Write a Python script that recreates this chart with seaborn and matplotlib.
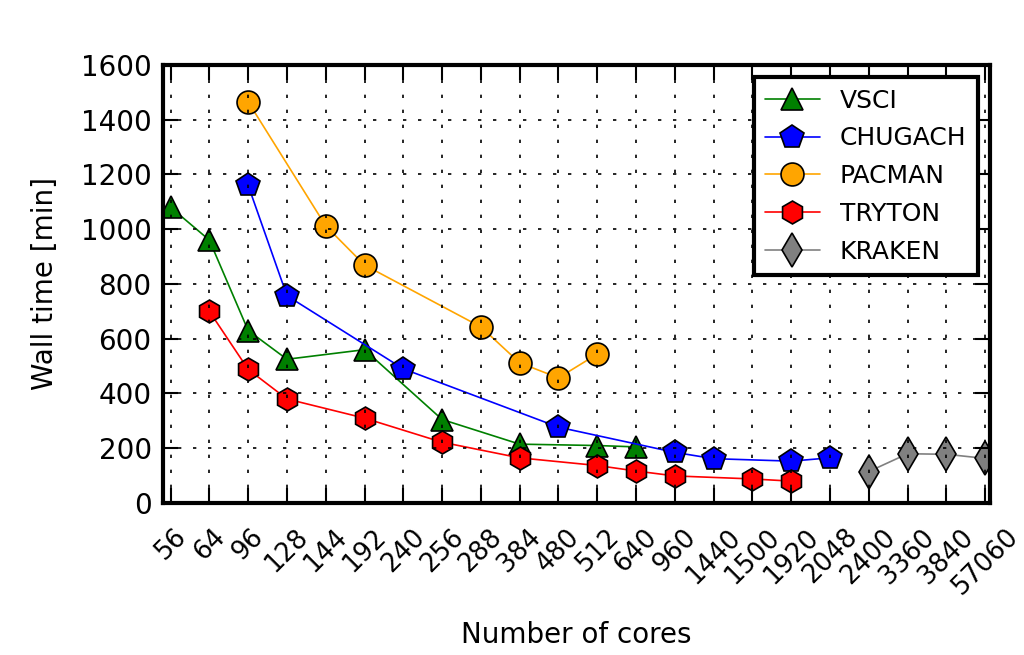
import pandas as pd
import matplotlib
matplotlib.use("Agg")
import matplotlib.pyplot as plt
import seaborn as sns

# Categories on the x axis (number of cores)
cores = ["56", "64", "96", "128", "144", "192", "240", "256", "288", "384", "480",
         "512", "640", "960", "1440", "1500", "1920", "2048", "2400", "3360", "3840", "57060"]

# Wall time per machine
vsci_cores = ["56", "64", "96", "128", "192", "256", "384", "512", "640"]
vsci_time = [1080, 960, 630, 525, 560, 305, 215, 210, 205]

chugach_cores = ["96", "128", "240", "480", "960", "1440", "1920", "2048"]
chugach_time = [1160, 757, 490, 277, 185, 162, 153, 165]

pacman_cores = ["96", "144", "192", "288", "384", "480", "512"]
pacman_time = [1465, 1012, 869, 643, 512, 457, 544]

tryton_cores = ["64", "96", "128", "192", "256", "384", "512", "640", "960", "1500", "1920"]
tryton_time = [700, 488, 380, 310, 222, 165, 137, 117, 99, 88, 80]

kraken_cores = ["2400", "3360", "3840", "57060"]
kraken_time = [115, 180, 178, 163]

series = [
    ("VSCI", vsci_cores, vsci_time, "green", "^", 16.5),
    ("CHUGACH", chugach_cores, chugach_time, "blue", "p", 17.5),
    ("PACMAN", pacman_cores, pacman_time, "orange", "o", 16.5),
    ("TRYTON", tryton_cores, tryton_time, "red", "h", 16.5),
    ("KRAKEN", kraken_cores, kraken_time, "gray", "d", 17.5),
]

rows = []
for name, cs, ts, *_ in series:
    for c, t in zip(cs, ts):
        rows.append({"machine": name, "pos": cores.index(c), "time": t})
df = pd.DataFrame(rows)

sns.set_style("ticks")
plt.rcParams["font.family"] = ["DejaVu Sans"]
plt.rcParams.update({"text.color": "black", "axes.labelcolor": "black",
                     "xtick.color": "black", "ytick.color": "black"})

fig = plt.figure(figsize=(10.24, 6.55), dpi=100)
ax = fig.add_axes([0.159, 0.232, 0.808, 0.669])

for name, cs, ts, color, marker, ms in series:
    sns.lineplot(data=df[df.machine == name], x="pos", y="time", ax=ax,
                 color=color, marker=marker, markersize=ms, linewidth=1.2,
                 markeredgecolor="black", markeredgewidth=1.2, label=name)

ax.set_xlim(-0.2, 21.13)
ax.set_ylim(0, 1600)
ax.set_xticks(range(len(cores)))
ax.set_xticklabels(cores, rotation=45, ha="center")
ax.set_yticks(range(0, 1601, 200))
ax.tick_params(axis="both", direction="in", length=11, width=1.5,
               top=True, right=True)
ax.tick_params(axis="y", labelsize=20, pad=8)
ax.tick_params(axis="x", labelsize=18.5, pad=15)
for s in ax.spines.values():
    s.set_linewidth(3)
    s.set_color("black")
ax.set_axisbelow(False)
ax.grid(True, color="black", linestyle=(0, (2, 7)), linewidth=1.2)

ax.set_xlabel("Number of cores", fontsize=20, labelpad=15)
ax.set_ylabel("Wall time [min]", fontsize=20, labelpad=16)

leg = ax.legend(loc="upper right", fontsize=18, frameon=True, fancybox=False,
                borderpad=0.45, labelspacing=0.55, handlelength=2.2,
                borderaxespad=0.5, framealpha=1)
leg.get_frame().set_edgecolor("black")
leg.get_frame().set_linewidth(3)

fig.savefig("out.png", dpi=100)
